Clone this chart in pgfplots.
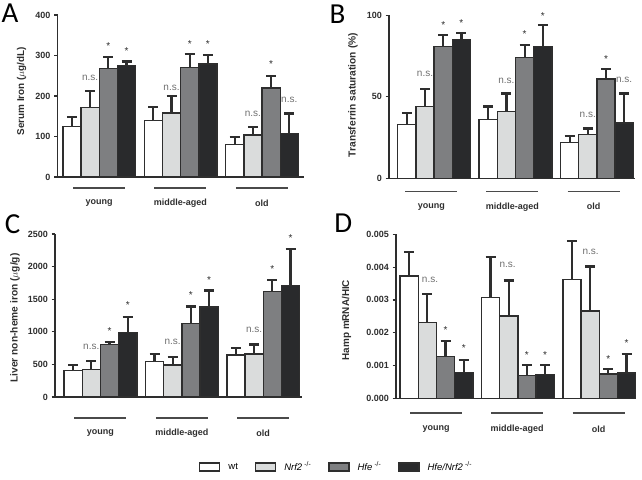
\documentclass[border=0pt]{standalone}
\usepackage{pgfplots}
\pgfplotsset{compat=1.18}
\usepackage{pgfplotstable}
\usepackage{fontspec}
\setmainfont{Liberation Sans}
\newfontfamily\letterfont{Carlito}

\definecolor{cwt}{HTML}{FFFFFF}
\definecolor{cnrf}{HTML}{DADCDC}
\definecolor{chfe}{HTML}{7E7F81}
\definecolor{chn}{HTML}{292A2C}
\definecolor{edge}{HTML}{2E2E2E}
\definecolor{nsc}{HTML}{707070}
\definecolor{glc}{HTML}{4A4A4A}

% g = age group (0 young, 1 middle-aged, 2 old); *e = SD (upper error)
\pgfplotstableread{
g wt  wte nrf nrfe hfe hfee hn  hne
0 125 24  172 41   268 28   275 10
1 140 32  158 42   270 34   279 22
2 80  19  104 19   220 29   107 50
}\tabA
\pgfplotstableread{
g wt wte nrf nrfe hfe hfee hn hne
0 33 7   44  11   81  7    85 4
1 36 8   41  11   74  8    81 13
2 22 4   27  3.5  61  6    34 18
}\tabB
\pgfplotstableread{
g wt  wte nrf nrfe hfe  hfee hn   hne
0 410 77  425 123  804  36   989  241
1 548 108 492 118  1127 261  1378 256
2 645 108 661 143  1614 179  1706 569
}\tabC
\pgfplotstableread{
g wt      wte     nrf     nrfe    hfe     hfee    hn      hne
0 0.00373 0.00072 0.00232 0.00085 0.00127 0.00047 0.00078 0.00038
1 0.00308 0.00123 0.00251 0.00108 0.00069 0.00032 0.00072 0.00029
2 0.00363 0.00116 0.00266 0.00136 0.00074 0.00015 0.00077 0.00057
}\tabD

\pgfplotsset{
  common/.style={
    scale only axis,
    axis lines=left,
    axis line style={-, line width=1.5pt, draw=edge},
    xmin=0, ymin=0,
    xtick=\empty,
    tick align=outside,
    major tick length=3.5pt,
    ytick style={line width=1.2pt, draw=edge},
    yticklabel style={font=\bfseries\fontsize{9}{10}\selectfont, text=edge},
    /pgf/number format/assume math mode=true,
    /pgf/number format/1000 sep={},
    ylabel style={font=\bfseries\fontsize{10.2}{12}\selectfont, text=edge, anchor=center},
    scaled y ticks=false,
    clip=false,
  },
  bars/.style={ybar, bar width=18.2, bar shift=0pt, draw=edge, line width=1.4pt,
    error bars/y dir=plus, error bars/y explicit,
    error bars/error bar style={line width=2.2pt, draw=edge},
    error bars/error mark options={rotate=90, draw=edge, line width=2.2pt, mark size=5pt}},
  boxlegend/.style={legend image code/.code={
    \draw[##1, line width=1.3pt] (0pt,-4pt) rectangle (20pt,4pt);}},
}
\tikzset{
  ns/.style={font=\fontsize{10}{12}\selectfont, text=nsc, inner sep=0pt},
  star/.style={font=\fontsize{10}{12}\selectfont, text=edge, inner sep=0pt, yshift=-2pt},
  gline/.style={draw=glc, line width=1.5pt},
  glabel/.style={font=\bfseries\fontsize{9}{10}\selectfont, text=edge, inner sep=0pt},
  letter/.style={font=\letterfont\fontsize{29}{30}\selectfont, text=black, inner sep=0pt},
}

% four bars per age group; #1 table, #2 centre of first bar
\newcommand\fourbars[2]{%
  \addplot[bars, fill=cwt, boxlegend] table[x expr={#2+81.4*\thisrow{g}}, y=wt, y error=wte] {#1};
  \addplot[bars, fill=cnrf, boxlegend] table[x expr={#2+18.2+81.4*\thisrow{g}}, y=nrf, y error=nrfe] {#1};
  \addplot[bars, fill=chfe, boxlegend] table[x expr={#2+36.4+81.4*\thisrow{g}}, y=hfe, y error=hfee] {#1};
  \addplot[bars, fill=chn, boxlegend] table[x expr={#2+54.6+81.4*\thisrow{g}}, y=hn, y error=hne] {#1};
}
% age-group underlines and names; #1,#2,#3 centres, #4 line drop, #5 label drop
\newcommand\groups[5]{%
  \draw[gline] ([yshift=-#4pt]axis cs:#1-26,0) -- ([yshift=-#4pt]axis cs:#1+26,0);
  \draw[gline] ([yshift=-#4pt]axis cs:#2-26,0) -- ([yshift=-#4pt]axis cs:#2+26,0);
  \draw[gline] ([yshift=-#4pt]axis cs:#3-26,0) -- ([yshift=-#4pt]axis cs:#3+26,0);
  \node[glabel] at ([yshift=-#5pt]axis cs:#1,0) {young};
  \node[glabel] at ([yshift=-#5pt]axis cs:#2,0) {middle-aged};
  \node[glabel] at ([yshift=-#5pt]axis cs:#3,0) {old};
}
\newcommand\ko{\textsuperscript{\,\,-/-}}

\begin{document}
\begin{tikzpicture}[x=1pt, y=1pt]
\path[use as bounding box] (0,0) rectangle (642,479);

% ---- A: serum iron
\begin{axis}[common, at={(57.5pt,302pt)}, anchor=south west,
  width=246pt, height=162pt, xmax=246, ymax=400,
  ytick={0,100,200,300,400},
  ylabel={Serum Iron ($\mu$g/dL)},
  ylabel style={at={(axis description cs:-0.146,0.53)}, font=\bfseries\fontsize{9.9}{11}\selectfont}]
  \fourbars{\tabA}{14.4}
  \node[ns] at (axis cs:32.6,244) {n.s.};
  \node[star] at (axis cs:50.8,328) {*};
  \node[star] at (axis cs:69.0,316) {*};
  \node[ns] at (axis cs:114.0,220) {n.s.};
  \node[star] at (axis cs:132.2,334) {*};
  \node[star] at (axis cs:150.4,333) {*};
  \node[ns] at (axis cs:195.4,155) {n.s.};
  \node[star] at (axis cs:213.6,283) {*};
  \node[ns] at (axis cs:231.8,190) {n.s.};
  \groups{41.5}{122.9}{204.3}{11}{26}
\end{axis}

% ---- B: transferrin saturation
\begin{axis}[common, at={(389pt,300.7pt)}, anchor=south west,
  width=246pt, height=163pt, xmax=246, ymax=100,
  ytick={0,50,100},
  ylabel={Transferrin saturation (\%)},
  ylabel style={at={(axis description cs:-0.146,0.51)}}]
  \fourbars{\tabB}{17.8}
  \node[ns] at (axis cs:36.0,64) {n.s.};
  \node[star] at (axis cs:54.2,95.5) {*};
  \node[star] at (axis cs:72.4,96.7) {*};
  \node[ns] at (axis cs:117.4,60) {n.s.};
  \node[star] at (axis cs:135.6,89.5) {*};
  \node[star] at (axis cs:153.8,100.8) {*};
  \node[ns] at (axis cs:198.8,38.7) {n.s.};
  \node[star] at (axis cs:217.0,74.5) {*};
  \node[ns] at (axis cs:235.2,60.2) {n.s.};
  \groups{42.3}{123.4}{204.6}{13.4}{28.4}
\end{axis}

% ---- C: liver non-heme iron, carries the legend
\begin{axis}[common, at={(55pt,82pt)}, anchor=south west,
  width=247pt, height=163pt, xmax=247, ymax=2500,
  ytick={0,500,1000,1500,2000,2500},
  ylabel={Liver non-heme iron ($\mu$g/g)},
  ylabel style={at={(axis description cs:-0.162,0.485)}},
  legend style={at={(axis description cs:1.140,-0.43)}, anchor=center,
    draw=none, fill=none, legend columns=4,
    font=\fontsize{9.5}{11}\selectfont,
    /tikz/every odd column/.append style={column sep=6pt},
    /tikz/every even column/.append style={column sep=15pt}},
  legend cell align=left]
  \fourbars{\tabC}{18.1}
  \legend{wt, \textit{Nrf2}\ko, \textit{Hfe}\ko, \textit{Hfe/Nrf2}\ko}
  \node[ns] at (axis cs:36.3,770) {n.s.};
  \node[star] at (axis cs:54.5,1040) {*};
  \node[star] at (axis cs:72.7,1435) {*};
  \node[ns] at (axis cs:117.7,845) {n.s.};
  \node[star] at (axis cs:135.9,1590) {*};
  \node[star] at (axis cs:154.1,1820) {*};
  \node[ns] at (axis cs:199.1,1035) {n.s.};
  \node[star] at (axis cs:217.3,2000) {*};
  \node[star] at (axis cs:235.5,2470) {*};
  \groups{45.4}{126.8}{208.2}{21}{36}
\end{axis}

% ---- D: hepcidin expression
\begin{axis}[common, at={(396pt,80.7pt)}, anchor=south west,
  width=240pt, height=164pt, xmax=240, ymax=0.005,
  ytick={0,0.001,0.002,0.003,0.004,0.005},
  yticklabel style={/pgf/number format/.cd, fixed, fixed zerofill, precision=3},
  ylabel={Hamp mRNA/HIC},
  ylabel style={at={(axis description cs:-0.206,0.477)}, font=\bfseries\fontsize{9.9}{11}\selectfont}]
  \fourbars{\tabD}{13.1}
  \node[ns] at (axis cs:34,0.0036) {n.s.};
  \node[star] at (axis cs:49.5,0.00213) {*};
  \node[star] at (axis cs:67.7,0.00158) {*};
  \node[ns] at (axis cs:111.7,0.00407) {n.s.};
  \node[star] at (axis cs:130.9,0.00137) {*};
  \node[star] at (axis cs:149.1,0.00137) {*};
  \node[ns] at (axis cs:194.7,0.00447) {n.s.};
  \node[star] at (axis cs:212.3,0.00127) {*};
  \node[star] at (axis cs:230.5,0.00173) {*};
  \groups{40.0}{121.0}{202.5}{14.7}{30.7}
\end{axis}

% panel letters
\node[letter] at (10,465.5) {A};
\node[letter] at (337.5,464.7) {B};
\node[letter] at (12.5,255) {C};
\node[letter] at (343.3,255.7) {D};
\end{tikzpicture}
\end{document}
